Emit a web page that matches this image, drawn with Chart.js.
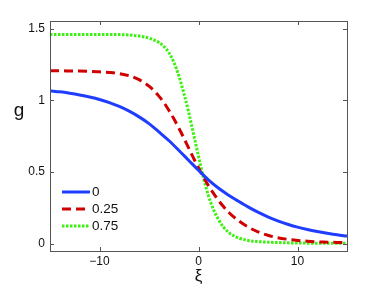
<!DOCTYPE html>
<html>
<head>
<meta charset="utf-8">
<script src="https://cdn.jsdelivr.net/npm/chart.js@4/dist/chart.umd.min.js"></script>
<style>
html,body{margin:0;padding:0;background:#fff;}
canvas{display:block;}
</style>
</head>
<body>
<canvas id="c" width="383" height="288"></canvas>
<script>
// ---- data ----
const xiCoarse = [-15,-14,-13,-12,-11,-10,-9,-8,-7,-6,-5,-4,-3,-2,-1,0,1,2,3,4,5,6,7,8,9,10,11,12,13,14,15];
const g0 = [1.067,1.060,1.050,1.038,1.024,1.007,0.985,0.958,0.925,0.885,0.838,0.780,0.720,0.652,0.582,0.512,0.445,0.388,0.340,0.297,0.256,0.219,0.187,0.159,0.135,0.115,0.098,0.084,0.072,0.061,0.052];
const xiFine = [-15,-14,-13,-12,-11,-10,-9,-8,-7,-6,-5,-4,-3.5,-3,-2.5,-2,-1.5,-1,-0.5,0,0.5,1,1.5,2,2.5,3,3.5,4,5,6,7,8,9,10,11,12,13,14,15];
const g025 = [1.207,1.207,1.206,1.205,1.203,1.200,1.195,1.187,1.172,1.145,1.100,1.030,0.985,0.932,0.873,0.808,0.740,0.668,0.597,0.528,0.465,0.405,0.352,0.303,0.260,0.222,0.190,0.162,0.116,0.082,0.058,0.041,0.030,0.022,0.016,0.012,0.010,0.008,0.007];
const g075 = [1.461,1.461,1.461,1.461,1.461,1.461,1.461,1.460,1.457,1.450,1.435,1.405,1.378,1.335,1.268,1.175,1.055,0.920,0.765,0.610,0.460,0.335,0.240,0.170,0.117,0.080,0.056,0.040,0.022,0.014,0.010,0.007,0.005,0.004,0.003,0.003,0.002,0.002,0.002];
const seriesLabels = ['0','0.25','0.75'];
const xTicks = [-10,0,10];
const yTicks = [0,0.5,1,1.5];
const xTitle = 'ξ';
const yTitle = 'g';

const toPts = (xs, arr) => arr.map((v,i)=>({x:xs[i], y:v}));
const FONT = "'Liberation Sans', Arial, sans-serif";
const AXC = '#555555';

const boxPlugin = {
  id:'box',
  afterDraw(chart){
    const ctx = chart.ctx, a = chart.chartArea;
    const xs = chart.scales.x, ys = chart.scales.y;
    ctx.save();
    ctx.strokeStyle = AXC; ctx.lineWidth = 1;
    ctx.strokeRect(Math.round(a.left)+0.5, Math.round(a.top)+0.5, Math.round(a.right-a.left), Math.round(a.bottom-a.top));
    const L = 4;
    ctx.beginPath();
    xTicks.forEach(v=>{
      const p = Math.round(xs.getPixelForValue(v))+0.5;
      ctx.moveTo(p,a.bottom); ctx.lineTo(p,a.bottom-L);
      ctx.moveTo(p,a.top); ctx.lineTo(p,a.top+L);
    });
    yTicks.forEach(v=>{
      const p = Math.round(ys.getPixelForValue(v))+0.5;
      ctx.moveTo(a.left,p); ctx.lineTo(a.left+L,p);
      ctx.moveTo(a.right,p); ctx.lineTo(a.right-L,p);
    });
    ctx.stroke();
    // legend
    const lx0 = 62, lx1 = 90, ly = [192,209,226];
    chart.data.datasets.forEach((ds,i)=>{
      ctx.save();
      ctx.strokeStyle = ds.borderColor; ctx.lineWidth = ds.borderWidth;
      ctx.setLineDash(ds.borderDash || []);
      ctx.beginPath(); ctx.moveTo(lx0,ly[i]); ctx.lineTo(lx1,ly[i]); ctx.stroke();
      ctx.restore();
      ctx.fillStyle = '#111'; ctx.font = '13.5px '+FONT; ctx.textBaseline='middle'; ctx.textAlign='left';
      ctx.fillText(ds.label, lx1+2, ly[i]+0.5);
    });
    // axis titles
    ctx.fillStyle = '#111';
    ctx.font = '19px '+FONT; ctx.textAlign='center'; ctx.textBaseline='middle';
    ctx.fillText(yTitle, 19, 111);
    ctx.font = '17px '+FONT; ctx.textBaseline='alphabetic';
    ctx.fillText(xTitle, xs.getPixelForValue(0), 281);
    ctx.restore();
  }
};

new Chart(document.getElementById('c'), {
  type:'line',
  data:{
    datasets:[
      {label:seriesLabels[0], data:toPts(xiCoarse,g0), borderColor:'#1f3dff', borderWidth:3, pointRadius:0, cubicInterpolationMode:'monotone'},
      {label:seriesLabels[1], data:toPts(xiFine,g025), borderColor:'#d10000', borderWidth:3, borderDash:[9,5], pointRadius:0, cubicInterpolationMode:'monotone'},
      {label:seriesLabels[2], data:toPts(xiFine,g075), borderColor:'#3cf010', borderWidth:3, borderDash:[2.5,1.5], pointRadius:0, cubicInterpolationMode:'monotone'}
    ]
  },
  options:{
    responsive:false, animation:false, devicePixelRatio:1,
    layout:{padding:{left:0, top:21, right:36, bottom:0}},
    plugins:{legend:{display:false}, tooltip:{enabled:false}},
    scales:{
      x:{type:'linear', min:-15, max:15,
        afterBuildTicks:s=>{s.ticks = xTicks.map(v=>({value:v}));},
        afterFit:s=>{s.height = 37;},
        grid:{drawOnChartArea:false, drawTicks:false},
        border:{display:false},
        ticks:{padding:3, color:'#111', font:{family:FONT, size:12}, maxRotation:0,
          callback:v=> (v<0 ? '\u2212'+Math.abs(v) : String(v))}
      },
      y:{type:'linear', min:-0.052, max:1.555,
        afterBuildTicks:s=>{s.ticks = yTicks.map(v=>({value:v}));},
        afterFit:s=>{s.width = 50;},
        grid:{drawOnChartArea:false, drawTicks:false},
        border:{display:false},
        ticks:{padding:5, color:'#111', font:{family:FONT, size:12}, callback:v=>String(v)}
      }
    }
  },
  plugins:[boxPlugin]
});
</script>
</body>
</html>
